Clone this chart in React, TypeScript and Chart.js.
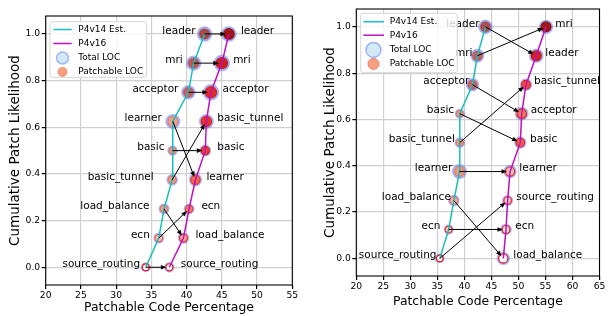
import React, { useEffect, useRef } from "react";
import { Chart, registerables } from "chart.js";

Chart.register(...registerables);

// ---------------- DATA ----------------
const likelihoodLevels = [0, 0.125, 0.25, 0.375, 0.5, 0.625, 0.75, 0.875, 1.0];

// Left panel
const leftP4v14Programs = ["source_routing", "ecn", "load_balance", "basic_tunnel", "basic", "learner", "acceptor", "mri", "leader"];
const leftP4v14Pct = [34.2, 36.05, 36.8, 37.95, 38.0, 38.05, 40.25, 41.0, 42.55];
const leftP4v16Programs = ["source_routing", "load_balance", "ecn", "learner", "basic", "basic_tunnel", "acceptor", "mri", "leader"];
const leftP4v16Pct = [37.55, 39.55, 40.35, 41.25, 42.65, 42.8, 43.45, 45.0, 46.0];

// Right panel
const rightP4v14Programs = ["source_routing", "ecn", "load_balance", "learner", "basic_tunnel", "basic", "acceptor", "mri", "leader"];
const rightP4v14Pct = [35.45, 37.1, 38.05, 39.1, 39.15, 39.15, 41.5, 42.4, 43.9];
const rightP4v16Programs = ["load_balance", "ecn", "source_routing", "learner", "basic", "acceptor", "basic_tunnel", "leader", "mri"];
const rightP4v16Pct = [47.2, 47.7, 48.0, 48.45, 50.35, 50.6, 51.4, 53.3, 55.1];

const leftXTicks = [20, 25, 30, 35, 40, 45, 50, 55];
const rightXTicks = [20, 25, 30, 35, 40, 45, 50, 55, 60, 65];
const yTicks = [0, 0.2, 0.4, 0.6, 0.8, 1.0];

const seriesNames = ["P4v14 Est.", "P4v16"];
const markerNames = ["Total LOC", "Patchable LOC"];
const xTitle = "Patchable Code Percentage";
const yTitle = "Cumulative Patch Likelihood";

// ---------------- STYLE ----------------
const FONT = "'DejaVu Sans', sans-serif";
const CYAN = "#17bfbf";
const MAGENTA = "#bf10bf";
const TOTAL_FILL = "rgba(173,216,236,0.55)";
const TOTAL_EDGE = "rgba(80,95,255,0.45)";

const leftStyle = {
  canvasLeft: 0,
  yAxisWidth: 45.7,
  padRight: 11.7,
  padTop: 16,
  xAxisHeight: 31,
  yTitlePad: 6.9,
  xTitlePad: 0.5,
  xMax: 55,
  r14: [5, 5.5, 5.5, 5.8, 5.2, 7.5, 7.2, 7.7, 7.7],
  r16: [5.2, 5.7, 5.4, 6.7, 6.0, 7.5, 8.3, 8.3, 7.8],
  c14: ["rgba(255,250,248,0.9)", "#f4bcaa", "#f0a386", "#ee9a7c", "#ee9a7c", "#eea088", "#c46262", "#b65656", "#a84a4c"],
  c16: ["rgba(255,250,248,0.9)", "#f4aa92", "#f08064", "#f06a50", "#e83c32", "#e5322a", "#e02c26", "#c82020", "#a01616"],
  e14: ["#f02020", "#f06050", "rgba(230,90,70,0.6)", "rgba(230,90,70,0.6)", "rgba(230,90,70,0.6)", "rgba(230,90,70,0.6)", "rgba(200,60,60,0.6)", "rgba(190,60,60,0.6)", "rgba(170,50,50,0.6)"],
  e16: ["#f02020", "#f02020", "#f03a30", "#f03020", "#e02020", "#e02020", "#d82020", "#c01818", "#981010"],
  dx14: [-5.7, -9, -14.7, -18.5, -8, -11, -10, -11, -9],
  dx16: [11.4, 12, 12.3, 11, 12, 11, 11.7, 11.3, 12],
  legend: { dx: 4.3, dy: 5.7, w: 96.7, h: 55.6, rows: [7.8, 21.8, 36.2, 50.2], lineX0: 3.3, lineX1: 21.7, mx: 12.5, tx: 28.3, rTotal: 6, rPatch: 4.5 },
};

const rightStyle = {
  canvasLeft: 304,
  yAxisWidth: 52.3,
  padRight: 6,
  padTop: 9,
  xAxisHeight: 40,
  yTitlePad: 18.6,
  xTitlePad: 6.8,
  xMax: 65,
  r14: [4.8, 5, 5.8, 7.5, 5.3, 5.0, 6.7, 7.0, 7.3],
  r16: [6.7, 5.8, 5.5, 6.7, 6.2, 7.0, 6.3, 7.3, 7.2],
  c14: ["rgba(255,250,248,0.9)", "#f6cabb", "#f2b29a", "#ee9a7c", "#ee9a7c", "#ee9a7c", "#c86262", "#c05e5e", "#a85050"],
  c16: ["rgba(255,252,250,0.9)", "#fde2da", "#fbd2c6", "#f8c2b2", "#f06048", "#f07a5a", "#f04a3a", "#d42222", "#a01818"],
  e14: ["#f02020", "#f03a30", "rgba(230,90,70,0.7)", "rgba(230,90,70,0.6)", "rgba(230,90,70,0.6)", "rgba(230,90,70,0.6)", "rgba(200,60,60,0.6)", "rgba(190,60,60,0.6)", "rgba(170,50,50,0.6)"],
  e16: ["#f01818", "#f01818", "#f02020", "#f02020", "#e82020", "#e82020", "#e02020", "#c81818", "#901010"],
  dx14: [-3.3, -8.3, -3, -7.3, -5, -5.7, -3.3, -5, -6],
  dx16: [10, 9.3, 8.7, 9.3, 9.7, 9, 8, 9, 9.3],
  legend: { dx: 4.4, dy: 4.3, w: 96.6, h: 59.4, rows: [8.4, 21.9, 36.6, 50.6], lineX0: 2.6, lineX1: 23.3, mx: 12.8, tx: 29, rTotal: 7.5, rPatch: 5.6 },
};

type PanelStyle = typeof leftStyle;

function arrowHead(ctx: CanvasRenderingContext2D, x0: number, y0: number, x1: number, y1: number) {
  const ang = Math.atan2(y1 - y0, x1 - x0);
  const len = 5.5;
  const hw = 2.3;
  const bx = x1 - len * Math.cos(ang);
  const by = y1 - len * Math.sin(ang);
  ctx.beginPath();
  ctx.moveTo(x1, y1);
  ctx.lineTo(bx + hw * Math.sin(ang), by - hw * Math.cos(ang));
  ctx.lineTo(bx - hw * Math.sin(ang), by + hw * Math.cos(ang));
  ctx.closePath();
  ctx.fill();
}

function makePlugin(p14: string[], x14: number[], p16: string[], x16: number[], st: PanelStyle) {
  return {
    id: "panelExtras",
    afterDatasetsDraw(chart: any) {
      const ctx: CanvasRenderingContext2D = chart.ctx;
      const xs = chart.scales.x;
      const ys = chart.scales.y;
      const area = chart.chartArea;
      ctx.save();
      // arrows
      ctx.strokeStyle = "#000";
      ctx.fillStyle = "#000";
      ctx.lineWidth = 1;
      p14.forEach((name, i) => {
        const j = p16.indexOf(name);
        if (j < 0) return;
        const sx = xs.getPixelForValue(x14[i]);
        const sy = ys.getPixelForValue(likelihoodLevels[i]);
        const ex0 = xs.getPixelForValue(x16[j]);
        const ey0 = ys.getPixelForValue(likelihoodLevels[j]);
        const d = Math.hypot(ex0 - sx, ey0 - sy);
        const shrink = 3;
        const ex = ex0 - ((ex0 - sx) / d) * shrink;
        const ey = ey0 - ((ey0 - sy) / d) * shrink;
        const ang = Math.atan2(ey - sy, ex - sx);
        ctx.beginPath();
        ctx.moveTo(sx, sy);
        ctx.lineTo(ex - 4 * Math.cos(ang), ey - 4 * Math.sin(ang));
        ctx.stroke();
        arrowHead(ctx, sx, sy, ex, ey);
      });
      // labels
      ctx.font = `10.5px ${FONT}`;
      ctx.fillStyle = "#000";
      ctx.textBaseline = "middle";
      ctx.textAlign = "right";
      p14.forEach((name, i) => {
        const px = xs.getPixelForValue(x14[i]);
        const py = ys.getPixelForValue(likelihoodLevels[i]);
        ctx.fillText(name, px + st.dx14[i], py - 3);
      });
      ctx.textAlign = "left";
      p16.forEach((name, i) => {
        const px = xs.getPixelForValue(x16[i]);
        const py = ys.getPixelForValue(likelihoodLevels[i]);
        ctx.fillText(name, px + st.dx16[i], py - 3);
      });
      // frame
      ctx.strokeStyle = "#000";
      ctx.lineWidth = 1.1;
      ctx.strokeRect(area.left, area.top, area.right - area.left, area.bottom - area.top);
      // legend
      const L = st.legend;
      const lx = area.left + L.dx;
      const ly = area.top + L.dy;
      ctx.beginPath();
      const rr = 2.5;
      ctx.moveTo(lx + rr, ly);
      ctx.lineTo(lx + L.w - rr, ly);
      ctx.quadraticCurveTo(lx + L.w, ly, lx + L.w, ly + rr);
      ctx.lineTo(lx + L.w, ly + L.h - rr);
      ctx.quadraticCurveTo(lx + L.w, ly + L.h, lx + L.w - rr, ly + L.h);
      ctx.lineTo(lx + rr, ly + L.h);
      ctx.quadraticCurveTo(lx, ly + L.h, lx, ly + L.h - rr);
      ctx.lineTo(lx, ly + rr);
      ctx.quadraticCurveTo(lx, ly, lx + rr, ly);
      ctx.closePath();
      ctx.fillStyle = "rgba(255,255,255,0.8)";
      ctx.fill();
      ctx.strokeStyle = "#d6d6d6";
      ctx.lineWidth = 1;
      ctx.stroke();
      // handles
      ctx.lineWidth = 1.5;
      [CYAN, MAGENTA].forEach((c, k) => {
        ctx.strokeStyle = c;
        ctx.beginPath();
        ctx.moveTo(lx + L.lineX0, ly + L.rows[k]);
        ctx.lineTo(lx + L.lineX1, ly + L.rows[k]);
        ctx.stroke();
      });
      ctx.beginPath();
      ctx.arc(lx + L.mx, ly + L.rows[2], L.rTotal, 0, Math.PI * 2);
      ctx.fillStyle = TOTAL_FILL;
      ctx.fill();
      ctx.strokeStyle = TOTAL_EDGE;
      ctx.lineWidth = 1.5;
      ctx.stroke();
      ctx.beginPath();
      ctx.arc(lx + L.mx, ly + L.rows[3], L.rPatch, 0, Math.PI * 2);
      ctx.fillStyle = "#f5a07e";
      ctx.fill();
      ctx.strokeStyle = "rgba(240,110,90,0.7)";
      ctx.lineWidth = 1;
      ctx.stroke();
      ctx.font = `9px ${FONT}`;
      ctx.fillStyle = "#000";
      ctx.textAlign = "left";
      ctx.textBaseline = "middle";
      const texts = [seriesNames[0], seriesNames[1], markerNames[0], markerNames[1]];
      texts.forEach((t, k) => ctx.fillText(t, lx + L.tx, ly + L.rows[k]));
      ctx.restore();
    },
  };
}

function buildConfig(p14: string[], x14: number[], p16: string[], x16: number[], xTicks: number[], st: PanelStyle): any {
  const pts14 = x14.map((x, i) => ({ x, y: likelihoodLevels[i] }));
  const pts16 = x16.map((x, i) => ({ x, y: likelihoodLevels[i] }));
  const allPts = [...pts14, ...pts16];
  const totalR = [...st.r14, ...st.r16].map((r) => r - 1);
  const patchR = [...st.r14, ...st.r16].map((r) => r * 0.68);
  return {
    type: "scatter",
    data: {
      datasets: [
        { data: pts14, showLine: true, borderColor: CYAN, borderWidth: 1.5, pointRadius: 0, pointHoverRadius: 0, order: 0, clip: false },
        { data: pts16, showLine: true, borderColor: MAGENTA, borderWidth: 1.5, pointRadius: 0, pointHoverRadius: 0, order: 1, clip: false },
        {
          data: allPts,
          pointRadius: patchR,
          pointHoverRadius: patchR,
          pointBackgroundColor: [...st.c14, ...st.c16],
          pointBorderColor: [...st.e14, ...st.e16],
          pointBorderWidth: 1.2,
          order: 2,
          clip: false,
        },
        {
          data: allPts,
          pointRadius: totalR,
          pointHoverRadius: totalR,
          pointBackgroundColor: TOTAL_FILL,
          pointBorderColor: TOTAL_EDGE,
          pointBorderWidth: 2,
          order: 3,
          clip: false,
        },
      ],
    },
    options: {
      responsive: false,
      animation: false,
      events: [],
      layout: { padding: { left: 0, right: st.padRight, top: st.padTop, bottom: 0 } },
      plugins: { legend: { display: false }, tooltip: { enabled: false } },
      scales: {
        x: {
          type: "linear",
          min: 20,
          max: st.xMax,
          afterBuildTicks: (s: any) => {
            s.ticks = xTicks.map((v) => ({ value: v }));
          },
          afterFit: (s: any) => {
            s.height = st.xAxisHeight;
            s.paddingLeft = 0;
            s.paddingRight = 0;
          },
          ticks: { font: { family: FONT, size: 9.2 }, color: "#000", padding: 1, maxRotation: 0, callback: (v: any) => String(v) },
          grid: { color: "#d0d0d0", lineWidth: 1.2, tickLength: 4, tickColor: "#000", drawTicks: true },
          border: { display: false },
          title: { display: true, text: xTitle, font: { family: FONT, size: 12.4 }, color: "#000", padding: { top: 0, bottom: st.xTitlePad } },
        },
        y: {
          type: "linear",
          min: -0.076,
          max: 1.077,
          afterBuildTicks: (s: any) => {
            s.ticks = yTicks.map((v) => ({ value: v }));
          },
          afterFit: (s: any) => {
            s.width = st.yAxisWidth;
            s.paddingTop = 0;
            s.paddingBottom = 0;
          },
          ticks: { font: { family: FONT, size: 9.2 }, color: "#000", padding: 1.5, callback: (v: any) => Number(v).toFixed(1) },
          grid: { color: "#d0d0d0", lineWidth: 1.2, tickLength: 4, tickColor: "#000", drawTicks: true },
          border: { display: false },
          title: { display: true, text: yTitle, font: { family: FONT, size: 13.5 }, color: "#000", padding: { top: st.yTitlePad, bottom: 0 } },
        },
      },
    },
    plugins: [makePlugin(p14, x14, p16, x16, st)],
  };
}

function Panel(props: { p14: string[]; x14: number[]; p16: string[]; x16: number[]; xTicks: number[]; st: PanelStyle }) {
  const ref = useRef<HTMLCanvasElement | null>(null);
  useEffect(() => {
    if (!ref.current) return;
    const chart = new Chart(ref.current, buildConfig(props.p14, props.x14, props.p16, props.x16, props.xTicks, props.st));
    return () => chart.destroy();
  }, []);
  return (
    <div style={{ position: "absolute", left: props.st.canvasLeft, top: 0, width: 304, height: 316 }}>
      <canvas ref={ref} width={304} height={316} style={{ display: "block", width: 304, height: 316 }} />
    </div>
  );
}

export default function App() {
  return (
    <div style={{ position: "fixed", left: 0, top: 0, width: 608, height: 316, background: "#fff", overflow: "hidden" }}>
      <Panel p14={leftP4v14Programs} x14={leftP4v14Pct} p16={leftP4v16Programs} x16={leftP4v16Pct} xTicks={leftXTicks} st={leftStyle} />
      <Panel p14={rightP4v14Programs} x14={rightP4v14Pct} p16={rightP4v16Programs} x16={rightP4v16Pct} xTicks={rightXTicks} st={rightStyle} />
    </div>
  );
}
